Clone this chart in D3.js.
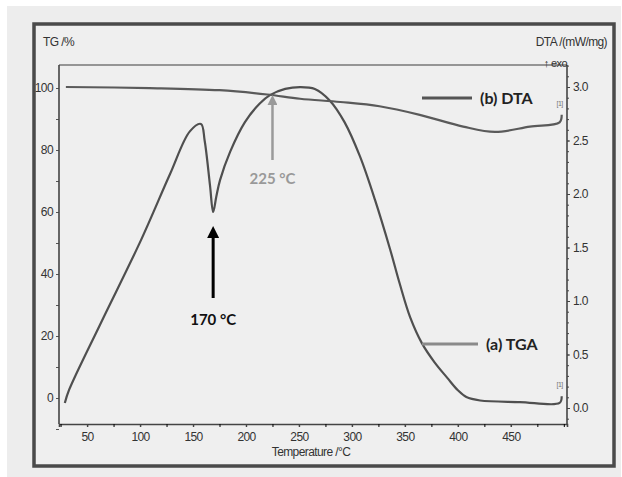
<!DOCTYPE html>
<html>
<head>
<meta charset="utf-8">
<script src="https://cdn.jsdelivr.net/npm/d3@7"></script>
<style>
  body { margin: 0; background: #fff; }
  .tick-label { font-family: "Liberation Sans", Arial, sans-serif; font-size: 12px; fill: #333; letter-spacing: -0.6px; }
  .note { font-family: Lato, "Open Sans", sans-serif; font-weight: bold; }
</style>
</head>
<body>
<svg id="chart"></svg>
<script>
// thermal analysis chart: TG + DTA vs temperature

// big curve (TG %)
const tgaTemp = [29, 33, 62, 101, 128, 147, 157.5, 161, 166, 169, 172, 175.5, 185, 199, 213, 222.6, 237, 251, 265, 279, 293, 307.5, 321.7, 336, 345, 355, 366, 378, 390, 400, 408, 421, 458.5, 496, 498];
const tgaVal  = [-1.6, 2.6, 23.5, 51, 72, 86, 88.4, 83, 68.7, 60, 65, 70.3, 79.4, 89, 95, 97.7, 99.7, 100.3, 99.7, 96, 89, 78, 64, 48, 37, 26, 17.7, 11.5, 6.5, 2.5, 0.3, -0.8, -1.3, -1.6, 0.6];

// flat curve (mW/mg)
const dtaTemp = [30, 109, 175, 220, 251, 289, 326, 364, 405, 435, 468, 496, 498];
const dtaVal  = [3.0, 2.99, 2.97, 2.93, 2.89, 2.86, 2.82, 2.74, 2.63, 2.58, 2.63, 2.67, 2.74];

const xTicks = [50, 100, 150, 200, 250, 300, 350, 400, 450];
const tgTicks = [0, 20, 40, 60, 80, 100];
const dtaTicks = [0.0, 0.5, 1.0, 1.5, 2.0, 2.5, 3.0];

const W = 622, H = 477;
const plot = { left: 59, right: 567, top: 65, bottom: 424 };

const svg = d3.select("#chart")
    .attr("width", W)
    .attr("height", H);

// page background + frame
svg.append("rect")
    .attr("x", 7).attr("y", 6)
    .attr("width", 614).attr("height", 471)
    .attr("fill", "#ededed");
svg.append("rect")
    .attr("x", 34).attr("y", 24)
    .attr("width", 580).attr("height", 442)
    .attr("fill", "#efefef")
    .attr("stroke", "#4a4a4a")
    .attr("stroke-width", 3.5);

const x = d3.scaleLinear().domain([23.5, 503]).range([plot.left, plot.right]);
const yL = d3.scaleLinear().domain([0, 100]).range([398, 88]);
const yR = d3.scaleLinear().domain([0, 3]).range([408, 87]);

// top border of plot box
svg.append("line")
    .attr("x1", plot.left).attr("x2", plot.right)
    .attr("y1", plot.top).attr("y2", plot.top)
    .attr("stroke", "#777").attr("stroke-width", 1.3);

// bottom axis
const minorX = d3.range(25, 501, 25);
svg.append("g")
    .attr("transform", `translate(0,${plot.bottom})`)
    .call(d3.axisBottom(x).tickValues(minorX).tickSize(3).tickFormat(""))
    .call(g => g.select(".domain").attr("stroke", "#444").attr("stroke-width", 1.6));
svg.append("g")
    .attr("transform", `translate(0,${plot.bottom})`)
    .call(d3.axisBottom(x).tickValues(xTicks).tickSize(3).tickPadding(5))
    .call(g => g.select(".domain").remove())
    .call(g => g.selectAll("line").attr("stroke", "#444").attr("stroke-width", 1.4))
    .selectAll("text")
    .attr("class", "tick-label");

svg.append("text")
    .attr("class", "tick-label")
    .attr("x", 311).attr("y", 456)
    .attr("text-anchor", "middle")
    .text("Temperature /°C");

// left axis
svg.append("g")
    .attr("transform", `translate(${plot.left},0)`)
    .call(d3.axisLeft(yL).tickValues(d3.range(-10, 108, 10)).tickSize(3).tickFormat(""))
    .call(g => g.select(".domain").remove())
    .call(g => g.selectAll("line").attr("stroke", "#555"));
svg.append("g")
    .attr("transform", `translate(${plot.left},0)`)
    .call(d3.axisLeft(yL).tickValues(tgTicks).tickSize(3).tickPadding(3))
    .call(g => g.select(".domain").remove())
    .call(g => g.selectAll("line").attr("stroke", "#555"))
    .selectAll("text")
    .attr("class", "tick-label");
svg.append("line")
    .attr("x1", plot.left).attr("x2", plot.left)
    .attr("y1", plot.top).attr("y2", plot.bottom)
    .attr("stroke", "#444").attr("stroke-width", 1.6);

// right axis
svg.append("g")
    .attr("transform", `translate(${plot.right},0)`)
    .call(d3.axisRight(yR).tickValues(d3.range(-0.1, 3.21, 0.1)).tickSize(2).tickFormat(""))
    .call(g => g.select(".domain").remove())
    .call(g => g.selectAll("line").attr("stroke", "#444"));
svg.append("g")
    .attr("transform", `translate(${plot.right},0)`)
    .call(d3.axisRight(yR).tickValues(dtaTicks).tickSize(3).tickPadding(3).tickFormat(d3.format(".1f")))
    .call(g => g.select(".domain").remove())
    .call(g => g.selectAll("line").attr("stroke", "#444"))
    .selectAll("text")
    .attr("class", "tick-label");
svg.append("line")
    .attr("x1", plot.right).attr("x2", plot.right)
    .attr("y1", plot.top).attr("y2", plot.bottom)
    .attr("stroke", "#444").attr("stroke-width", 1.6);

// axis titles
svg.append("text").attr("class", "tick-label")
    .attr("x", 43).attr("y", 46).style("font-size", "12px")
    .text("TG /%");
svg.append("text").attr("class", "tick-label")
    .attr("x", 607).attr("y", 46).attr("text-anchor", "end").style("font-size", "12px")
    .text("DTA /(mW/mg)");
svg.append("text").attr("class", "tick-label")
    .attr("x", 567).attr("y", 67).attr("text-anchor", "end").style("font-size", "11px")
    .text("↑ exo");

// curves
const lineTga = d3.line()
    .x((d, i) => x(tgaTemp[i]))
    .y(d => yL(d))
    .curve(d3.curveCatmullRom.alpha(0.5));
const lineDta = d3.line()
    .x((d, i) => x(dtaTemp[i]))
    .y(d => yR(d))
    .curve(d3.curveCatmullRom.alpha(0.5));

svg.append("path")
    .attr("d", lineTga(tgaVal))
    .attr("fill", "none")
    .attr("stroke", "#4f4f4f")
    .attr("stroke-width", 2.2);
svg.append("path")
    .attr("d", lineDta(dtaVal))
    .attr("fill", "none")
    .attr("stroke", "#5a5a5a")
    .attr("stroke-width", 2.2);

// [1] markers at the curve ends
svg.append("text").attr("class", "tick-label")
    .attr("x", x(496)).attr("y", yR(2.82)).attr("text-anchor", "middle")
    .style("font-size", "7px").style("fill", "#777").text("[1]");
svg.append("text").attr("class", "tick-label")
    .attr("x", x(496)).attr("y", yL(3.5)).attr("text-anchor", "middle")
    .style("font-size", "7px").style("fill", "#777").text("[1]");

// legend-like labels
svg.append("line")
    .attr("x1", 422).attr("x2", 472).attr("y1", 98).attr("y2", 98)
    .attr("stroke", "#555").attr("stroke-width", 3);
svg.append("text").attr("class", "note")
    .attr("x", 480).attr("y", 104)
    .style("font-size", "16px").style("fill", "#222")
    .text("(b) DTA");

svg.append("line")
    .attr("x1", 422).attr("x2", 478).attr("y1", 344).attr("y2", 344)
    .attr("stroke", "#8a8a8a").attr("stroke-width", 3);
svg.append("text").attr("class", "note")
    .attr("x", 486).attr("y", 350)
    .style("font-size", "16px").style("fill", "#222")
    .text("(a) TGA");

// arrow markers
const defs = svg.append("defs");
defs.append("marker")
    .attr("id", "headBlack")
    .attr("viewBox", "0 0 10 10").attr("refX", 5).attr("refY", 5)
    .attr("markerWidth", 4).attr("markerHeight", 4).attr("orient", "auto")
    .append("path").attr("d", "M0,0 L10,5 L0,10 z").attr("fill", "#000");
defs.append("marker")
    .attr("id", "headGrey")
    .attr("viewBox", "0 0 10 10").attr("refX", 5).attr("refY", 5)
    .attr("markerWidth", 4).attr("markerHeight", 4).attr("orient", "auto")
    .append("path").attr("d", "M0,0 L10,5 L0,10 z").attr("fill", "#9a9a9a");

// 170 °C arrow
svg.append("line")
    .attr("x1", x(169)).attr("x2", x(169))
    .attr("y1", 298).attr("y2", 232)
    .attr("stroke", "#000").attr("stroke-width", 3)
    .attr("marker-end", "url(#headBlack)");
svg.append("text").attr("class", "note")
    .attr("x", x(169)).attr("y", 325).attr("text-anchor", "middle")
    .style("font-size", "15px").style("fill", "#111")
    .text("170 °C");

// 225 °C arrow
svg.append("line")
    .attr("x1", x(225)).attr("x2", x(225))
    .attr("y1", 160).attr("y2", 100)
    .attr("stroke", "#9a9a9a").attr("stroke-width", 2.5)
    .attr("marker-end", "url(#headGrey)");
svg.append("text").attr("class", "note")
    .attr("x", x(225)).attr("y", 184).attr("text-anchor", "middle")
    .style("font-size", "15px").style("fill", "#999")
    .text("225 °C");
</script>
</body>
</html>
